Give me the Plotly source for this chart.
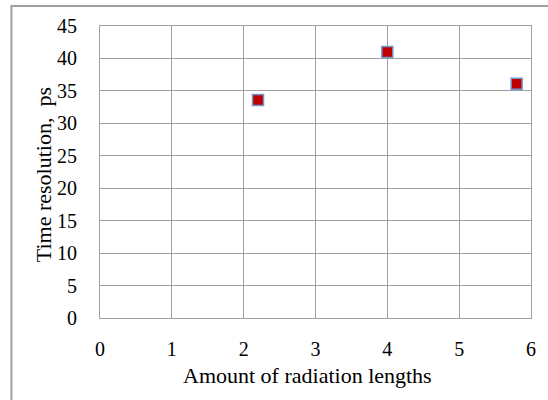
import plotly.graph_objects as go

x_vals = [2.2, 4.0, 5.8]
y_vals = [33.6, 41.0, 36.1]
x_ticks = [0, 1, 2, 3, 4, 5, 6]
y_ticks = [0, 5, 10, 15, 20, 25, 30, 35, 40, 45]

W, H = 548, 400
L, R, T, B = 100, 15, 26, 82
pw, ph = W - L - R, H - T - B

def px(xp):
    return (xp - L) / pw

def py(yp):
    return (H - B - yp) / ph

font = "Liberation Serif, Times New Roman, serif"

fig = go.Figure()
fig.add_trace(go.Scatter(
    x=x_vals, y=y_vals, mode="markers",
    marker=dict(symbol="square", size=11, color="#c00000",
                line=dict(color="#6f97cc", width=1.5)),
    showlegend=False, cliponaxis=False,
))

fig.update_layout(
    width=W, height=H,
    margin=dict(l=L, r=R, t=T, b=B),
    paper_bgcolor="white", plot_bgcolor="white",
    font=dict(family=font, size=20, color="black"),
    xaxis=dict(range=[0, 6], tickvals=x_ticks, showgrid=True, gridcolor="#a0a0a0",
               gridwidth=1, zeroline=False, showline=True, linecolor="#a0a0a0",
               mirror=True, ticks="", ticklabelstandoff=13,
               tickfont=dict(family=font, size=20)),
    yaxis=dict(range=[0, 45], tickvals=y_ticks, showgrid=True, gridcolor="#a0a0a0",
               gridwidth=1, zeroline=False, showline=True, linecolor="#a0a0a0",
               mirror=True, ticks="", ticklabelstandoff=18,
               tickfont=dict(family=font, size=20)),
    annotations=[
        dict(text="Amount of radiation lengths", xref="paper", yref="paper",
             x=px(308), y=py(375), showarrow=False, xanchor="center", yanchor="middle",
             font=dict(family=font, size=22)),
        dict(text="Time resolution,\u00a0 ps", xref="paper", yref="paper",
             x=px(44), y=py(175), showarrow=False, xanchor="center", yanchor="middle",
             textangle=-90, font=dict(family=font, size=22)),
    ],
    shapes=[
        dict(type="rect", xref="paper", yref="paper",
             x0=px(11), x1=px(570), y0=py(420), y1=py(6),
             line=dict(color="#a0a0a0", width=2), fillcolor="rgba(0,0,0,0)", layer="below"),
    ],
)

fig.write_html("out.html")
